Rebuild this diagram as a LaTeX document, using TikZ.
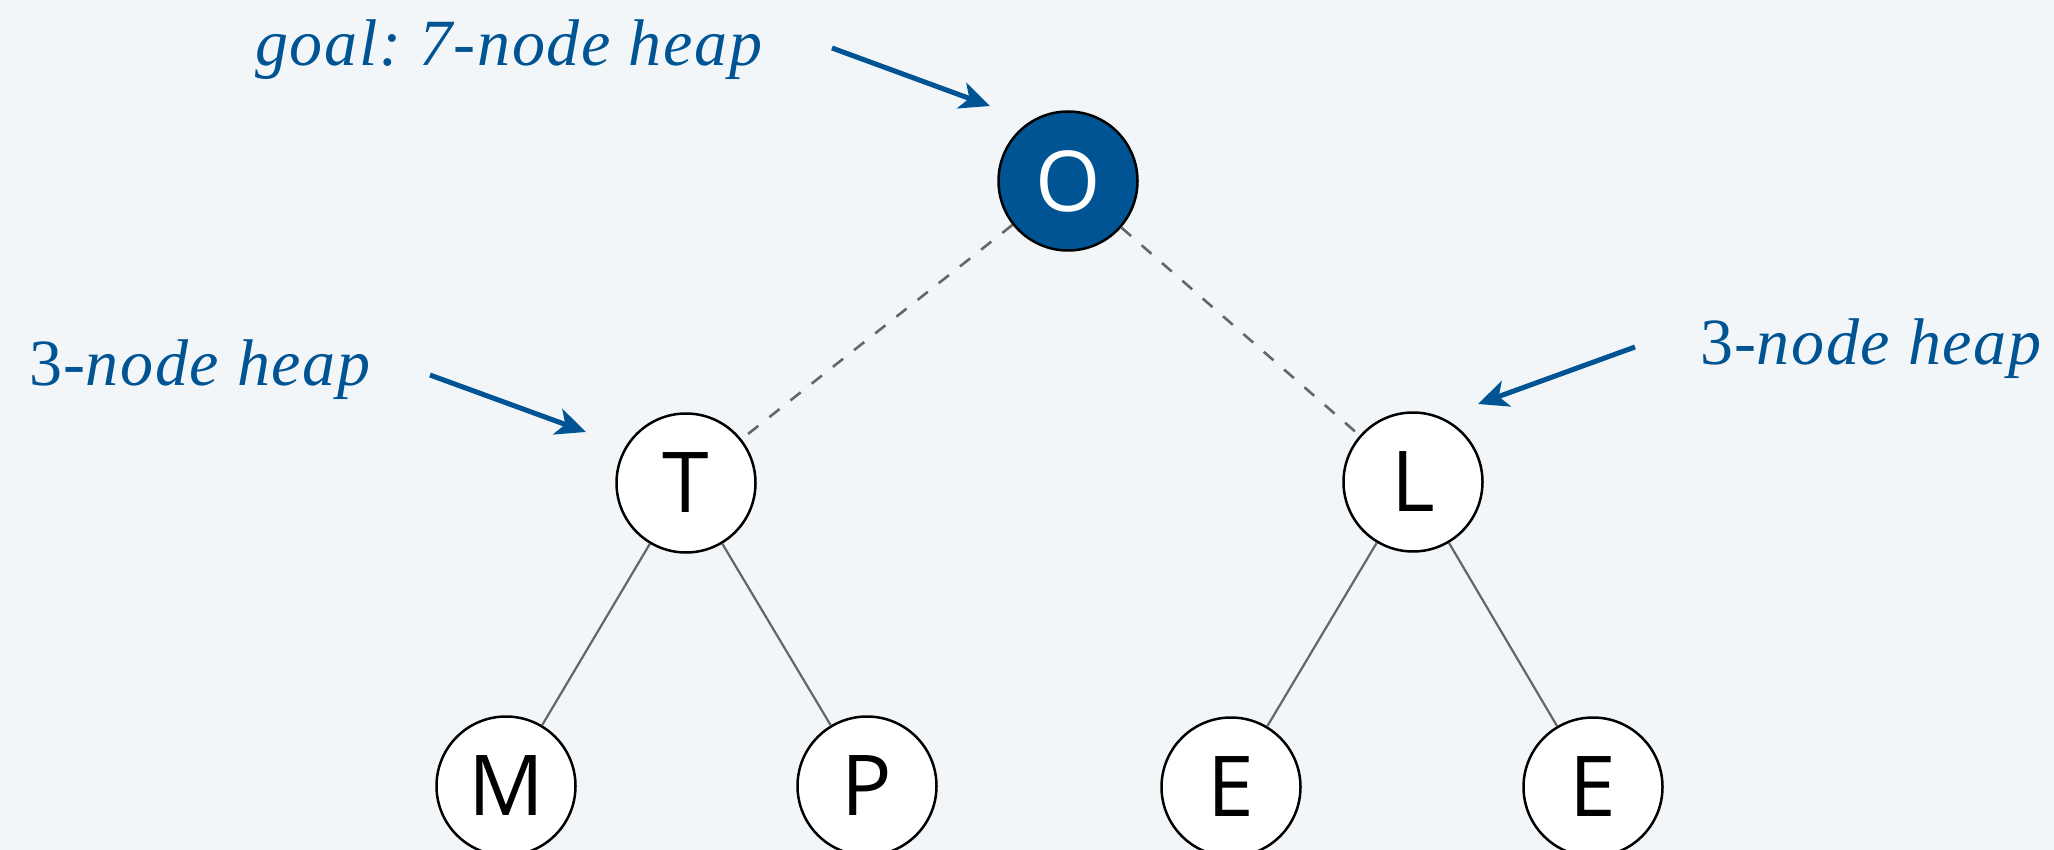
\documentclass[tikz,border=0pt]{standalone}
\usepackage{fontspec}
\setmainfont{Liberation Serif}
\newfontfamily\notefont[LetterSpace=2.5]{Liberation Serif}
\newfontfamily\keyfont{Open Sans}
\usetikzlibrary{arrows.meta}
\definecolor{heapblue}{RGB}{0,84,147}
\definecolor{paper}{RGB}{242,246,249}
\definecolor{linkgray}{RGB}{102,102,102}

\begin{document}
\frenchspacing
\begin{tikzpicture}[x=1pt, y=-1pt,
		key/.style={circle, draw=black, line width=2.5pt, fill=white, minimum size=139pt, inner sep=0pt, font=\keyfont\fontsize{84}{100}\selectfont},
		link/.style={linkgray, line width=2.2pt},
		note/.style={heapblue, anchor=base west, inner sep=0pt, font=\notefont\fontsize{66}{80}\selectfont\itshape},
		pointer/.style={-{Stealth[length=30pt, width=27pt, inset=8pt]}, heapblue, line width=5pt}]
			\fill[paper] (0,0) rectangle (2054,850);
			\useasboundingbox (0,0) rectangle (2054,850);
			% the heap
			\node[key, fill=heapblue, text=white] (o) at (1068,181) {O};
			\node[key] (t) at (686,483) {T};
			\node[key] (l) at (1413,482) {L};
			\node[key] (m) at (506,786) {M};
			\node[key] (p) at (867,786) {P};
			\node[key] (e1) at (1231,787) {E};
			\node[key] (e2) at (1593,787) {E};
			\draw[link, line width=2.6pt, dash pattern=on 13pt off 14pt] (o)--(t);
			\draw[link, line width=2.6pt, dash pattern=on 13pt off 14pt] (o)--(l);
			\draw[link] (t)--(m);
			\draw[link] (t)--(p);
			\draw[link] (l)--(e1);
			\draw[link] (l)--(e2);
			% labels and pointers
			\node[note] (goal) at (255,66) {goal: 7-node heap};
			\node[note] (left) at (29,385) {\upshape 3-\itshape node heap};
			\node[note] (right) at (1700,365) {\upshape 3-\itshape node heap};
			\coordinate (goaltail) at (832,48);
			\coordinate (goalhead) at (990,106);
			\coordinate (lefttail) at (430,375);
			\coordinate (lefthead) at (586,432);
			\coordinate (righttail) at (1635,347);
			\coordinate (righthead) at (1478,404);
			\draw[pointer] (goaltail)--(goalhead);
			\draw[pointer] (lefttail)--(lefthead);
			\draw[pointer] (righttail)--(righthead);
		\end{tikzpicture}
\end{document}
